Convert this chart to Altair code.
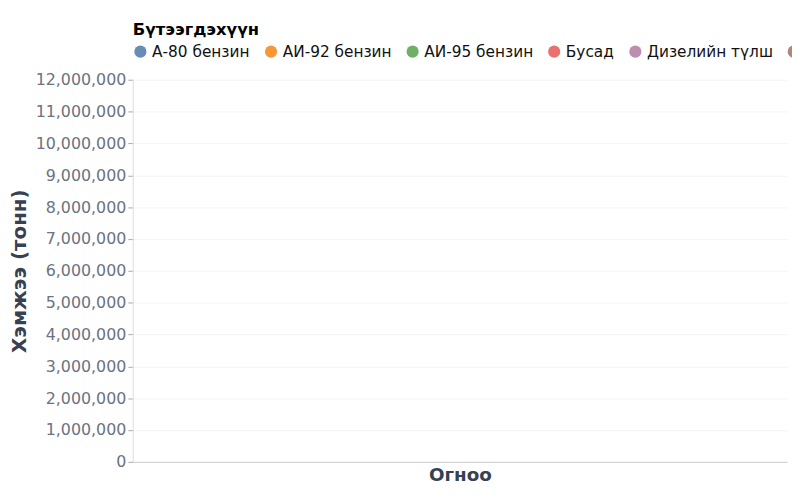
import altair as alt
import pandas as pd

categories = ["А-80 бензин", "АИ-92 бензин", "АИ-95 бензин", "Бусад", "Дизелийн түлш", "Шингэрүүлсэн газ"]
colors = ["#4c78a8", "#f58518", "#54a24b", "#e45756", "#b279a2", "#9d755d"]
y_ticks = list(range(0, 12000001, 1000000))

# No marks are visible in the reference: dates and values are empty
df = pd.DataFrame({
    "Огноо": [None] * len(categories),
    "Хэмжээ": [None] * len(categories),
    "Бүтээгдэхүүн": categories,
})

chart = alt.Chart(df).mark_area(opacity=0.7).encode(
    x=alt.X("Огноо:T", title="Огноо",
            axis=alt.Axis(labels=False, ticks=False, grid=False,
                          titleFontSize=18.5, titleColor="#374151",
                          titleFont="DejaVu Sans", domainColor="#cccccc")),
    y=alt.Y("Хэмжээ:Q", title="Хэмжээ (тонн)", stack=True,
            scale=alt.Scale(domain=[0, 12000000]),
            axis=alt.Axis(values=y_ticks, format=",d", labelFontSize=16,
                          labelColor="#6b7280", titleFontSize=20,
                          titleColor="#374151", titleFont="DejaVu Sans",
                          labelFont="DejaVu Sans", gridColor="#f3f4f6",
                          domainColor="#dddddd", tickColor="#aaaaaa",
                          titlePadding=6)),
    color=alt.Color("Бүтээгдэхүүн:N",
                    scale=alt.Scale(domain=categories, range=colors),
                    legend=alt.Legend(orient="top", direction="horizontal",
                                      title="Бүтээгдэхүүн", titleFontSize=16.5,
                                      titleColor="#000000", labelFontSize=15.5,
                                      labelColor="#111111", symbolType="circle",
                                      symbolSize=150, symbolOpacity=0.85,
                                      columnPadding=13, offset=19,
                                      titleFont="DejaVu Sans", labelFont="DejaVu Sans")),
).properties(
    width=792, height=484,
    padding={"top": 12, "left": 1, "right": 5, "bottom": 5},
    autosize=alt.AutoSizeParams(type="fit", contains="padding"),
).configure_view(stroke=None)

chart.save("out.html", embed_options={"renderer": "svg", "actions": False})
